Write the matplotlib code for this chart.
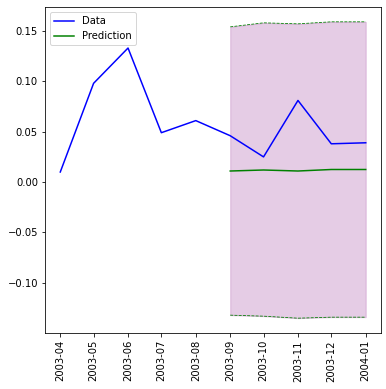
import numpy as np
import pandas as pd
import matplotlib
matplotlib.use("Agg")
import matplotlib.pyplot as plt

data_dates = pd.date_range("2003-04-01", "2004-01-01", freq="MS")
data_values = [0.010, 0.098, 0.133, 0.049, 0.061, 0.046, 0.025, 0.081, 0.038, 0.039]

pred_dates = pd.date_range("2003-09-01", "2004-01-01", freq="MS")
pred_values = [0.011, 0.012, 0.011, 0.0125, 0.0125]
pred_upper = [0.154, 0.158, 0.157, 0.159, 0.159]
pred_lower = [-0.132, -0.133, -0.135, -0.134, -0.134]

fig = plt.figure(figsize=(386 / 72, 389 / 72), dpi=72)
ax = fig.add_axes([45 / 386, 1 - 333 / 389, 336 / 386, 326 / 389])

ax.plot(data_dates, data_values, color="blue", label="Data")
ax.plot(pred_dates, pred_values, color="green", label="Prediction")
ax.fill_between(pred_dates, pred_lower, pred_upper, color="purple", alpha=0.2)
ax.plot(pred_dates, pred_upper, color="green", linestyle="--", linewidth=0.8)
ax.plot(pred_dates, pred_lower, color="green", linestyle="--", linewidth=0.8)

ax.set_xticks(data_dates)
ax.set_xticklabels([d.strftime("%Y-%m") for d in data_dates], rotation=90)
ax.legend(loc="upper left")

fig.savefig("out.png", dpi=72)
